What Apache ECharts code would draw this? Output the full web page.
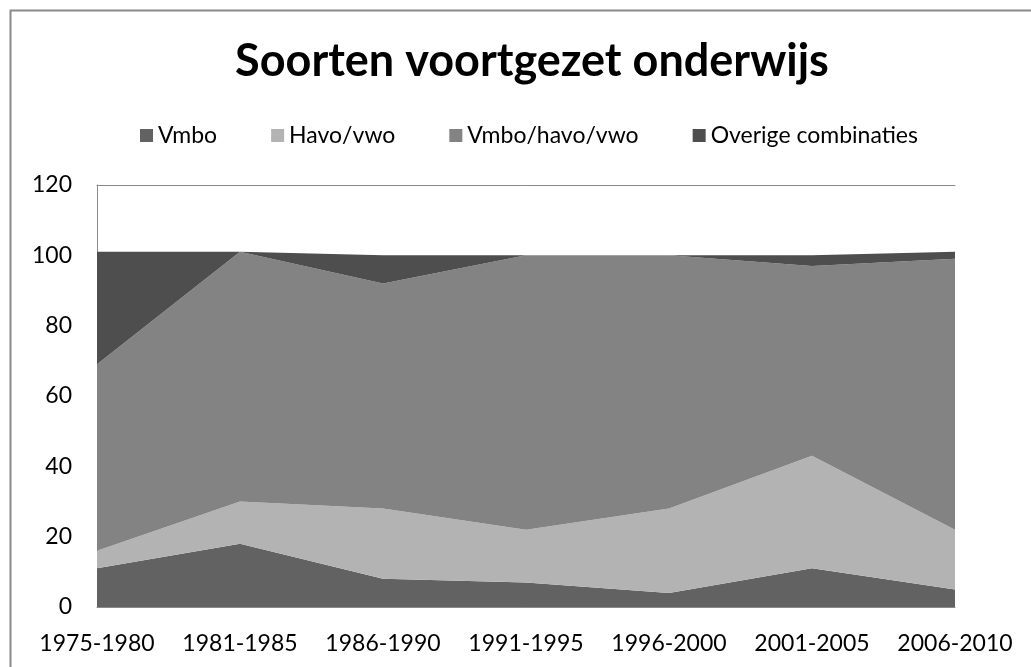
<!DOCTYPE html>
<html>
<head>
<meta charset="utf-8">
<script src="https://cdn.jsdelivr.net/npm/echarts@6/dist/echarts.min.js"></script>
<style>html,body{margin:0;padding:0;background:#fff}#c{width:1031px;height:667px}</style>
</head>
<body>
<div id="c"></div>
<script>
const categories = ['1975-1980','1981-1985','1986-1990','1991-1995','1996-2000','2001-2005','2006-2010'];
const vmbo = [11, 18, 8, 7, 4, 11, 5];
const havoVwo = [5, 12, 20, 15, 24, 32, 17];
const vmboHavoVwo = [53, 71, 64, 78, 72, 54, 77];
const overige = [32, 0, 8, 0, 0, 3, 2];
const seriesNames = ['Vmbo', 'Havo/vwo', 'Vmbo/havo/vwo', 'Overige combinaties'];
const colors = ['#626262', '#b3b3b3', '#838383', '#4e4e4e'];

const FONT = 'Lato';
const chart = echarts.init(document.getElementById('c'));
const mk = (name, data, color) => ({
  name, type: 'line', stack: 'total', data, symbol: 'none', showSymbol: false,
  lineStyle: { width: 0 }, areaStyle: { color, opacity: 1 }, itemStyle: { color },
  emphasis: { disabled: true }, animation: false
});
chart.setOption({
  animation: false,
  color: colors,
  title: {
    text: 'Soorten voortgezet onderwijs', left: 527, textAlign: 'center', top: 34,
    textStyle: { fontFamily: FONT, fontWeight: 'bold', fontSize: 45, color: '#000' }
  },
  legend: {
    left: 140, top: 124, padding: 0, icon: 'rect', itemWidth: 13, itemHeight: 13, itemGap: 54,
    textStyle: { fontFamily: FONT, fontSize: 23, color: '#000' },
    data: seriesNames
  },
  graphic: [{
    type: 'rect', shape: { x: 10.5, y: 10.5, width: 1100, height: 800 },
    style: { fill: 'none', stroke: '#8a8a8a', lineWidth: 2 }, silent: true
  }],
  grid: { left: 97, right: 76, top: 185, bottom: 60 },
  xAxis: [{
    type: 'category', data: categories, boundaryGap: false,
    axisLine: { lineStyle: { color: '#8a8a8a', width: 1 } },
    axisTick: { show: false },
    axisLabel: { margin: 25, fontFamily: FONT, fontSize: 23, color: '#000', interval: 0 },
    splitLine: { show: false }
  }, {
    type: 'category', data: categories, boundaryGap: false, position: 'top',
    axisLine: { lineStyle: { color: '#8a8a8a', width: 1 } },
    axisTick: { show: false }, axisLabel: { show: false }, splitLine: { show: false }
  }],
  yAxis: {
    type: 'value', min: 0, max: 120, interval: 20,
    axisLine: { show: true, lineStyle: { color: '#8a8a8a', width: 1 } },
    axisTick: { show: false },
    splitLine: { show: false },
    axisLabel: { margin: 25, fontFamily: FONT, fontSize: 23, color: '#000' }
  },
  series: [
    mk(seriesNames[0], vmbo, colors[0]),
    mk(seriesNames[1], havoVwo, colors[1]),
    mk(seriesNames[2], vmboHavoVwo, colors[2]),
    mk(seriesNames[3], overige, colors[3])
  ]
});
</script>
</body>
</html>
